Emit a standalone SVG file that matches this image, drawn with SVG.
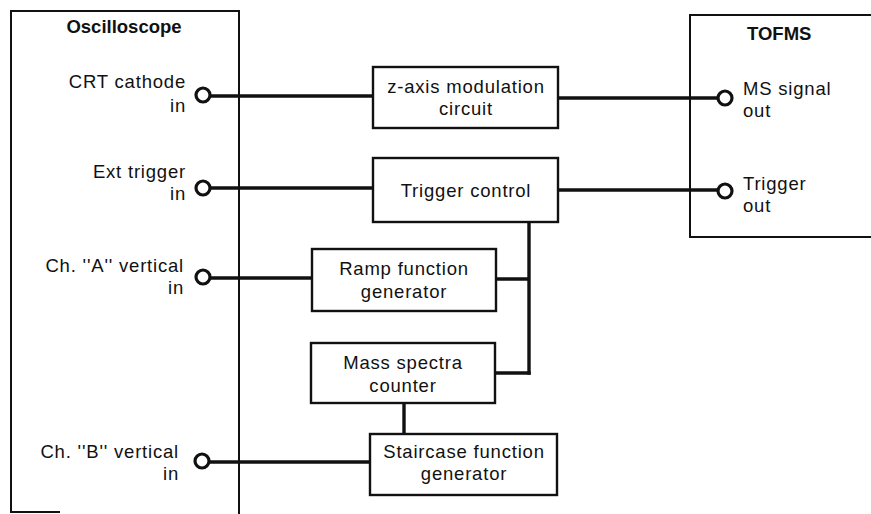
<svg xmlns="http://www.w3.org/2000/svg" width="871" height="514" viewBox="0 0 871 514">
<style>
.bg{fill:#fff}
.frame{fill:none;stroke:#111;stroke-width:2}
.box{fill:#fff;stroke:#111;stroke-width:2.4}
.wire{fill:none;stroke:#111;stroke-width:3.4;stroke-linecap:butt}
.port{fill:#fff;stroke:#111;stroke-width:3.2}
text{font-family:"Liberation Sans",Arial,sans-serif;font-size:18.5px;fill:#111;letter-spacing:0.8px}
.title{font-weight:bold;letter-spacing:0}
.r{text-anchor:end}
.m{text-anchor:middle}
</style>
<rect class="bg" x="0" y="0" width="871" height="514"/>
<g id="oscilloscope">
<path class="frame" d="M60,512 H11 V11 H239 V514"/>
<text class="title m" x="124" y="33">Oscilloscope</text>
</g>
<g id="tofms">
<path class="frame" d="M875,15 H690 V237 H875"/>
<text class="title" x="747" y="40">TOFMS</text>
</g>
<g id="connectors">
<path class="wire" d="M209,96 H373"/>
<path class="wire" d="M558,98 H719"/>
<path class="wire" d="M209,188 H373"/>
<path class="wire" d="M558,190 H719"/>
<path class="wire" d="M209,278 H312"/>
<path class="wire" d="M496,279 H530"/>
<path class="wire" d="M529,222 V374.7"/>
<path class="wire" d="M495,373 H530.7"/>
<path class="wire" d="M404,403 V434"/>
<path class="wire" d="M208,462 H370"/>
</g>
<g id="crt-in">
<circle class="port" cx="203" cy="95" r="7"/>
<text class="r" x="186" y="88">CRT cathode</text>
<text class="r" x="186" y="112">in</text>
</g>
<g id="ext-trigger-in">
<circle class="port" cx="203" cy="188" r="7"/>
<text class="r" x="186" y="178">Ext trigger</text>
<text class="r" x="186" y="200">in</text>
</g>
<g id="ch-a-in">
<circle class="port" cx="203" cy="277" r="7"/>
<text class="r" x="184" y="272">Ch. ''A'' vertical</text>
<text class="r" x="184" y="294">in</text>
</g>
<g id="ch-b-in">
<circle class="port" cx="202" cy="461" r="7"/>
<text class="r" x="179" y="458">Ch. ''B'' vertical</text>
<text class="r" x="179" y="480">in</text>
</g>
<g id="ms-signal-out">
<circle class="port" cx="725" cy="98" r="7"/>
<text x="743" y="95">MS signal</text>
<text x="743" y="117">out</text>
</g>
<g id="trigger-out">
<circle class="port" cx="725" cy="191" r="7"/>
<text x="743" y="190">Trigger</text>
<text x="743" y="212">out</text>
</g>
<g id="z-axis">
<rect class="box" x="373" y="67" width="185" height="61"/>
<text class="m" x="466" y="93">z-axis modulation</text>
<text class="m" x="466" y="115">circuit</text>
</g>
<g id="trigger-control">
<rect class="box" x="373" y="158" width="185" height="64"/>
<text class="m" x="466" y="197">Trigger control</text>
</g>
<g id="ramp">
<rect class="box" x="312" y="249" width="184" height="62"/>
<text class="m" x="404" y="275">Ramp function</text>
<text class="m" x="404" y="298">generator</text>
</g>
<g id="mass-spectra">
<rect class="box" x="311" y="343" width="184" height="60"/>
<text class="m" x="403" y="369">Mass spectra</text>
<text class="m" x="403" y="392">counter</text>
</g>
<g id="staircase">
<rect class="box" x="370" y="434" width="187" height="61"/>
<text class="m" x="464" y="458">Staircase function</text>
<text class="m" x="464" y="480">generator</text>
</g>
</svg>
